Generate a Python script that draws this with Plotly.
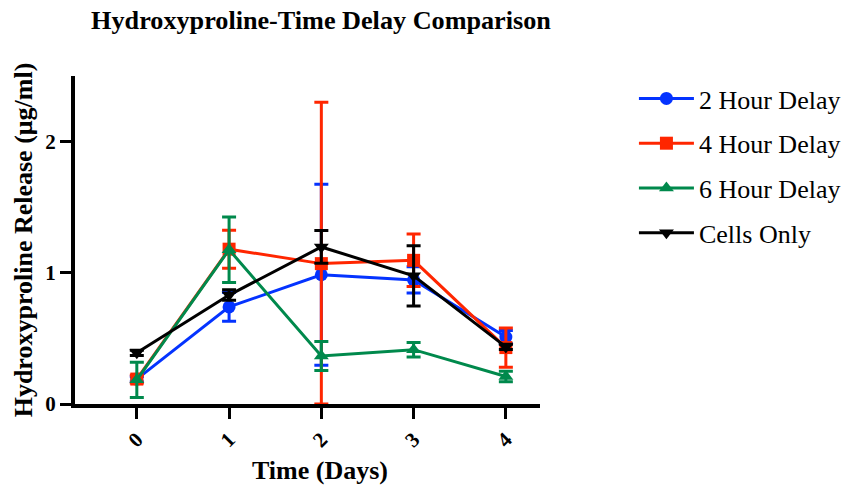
import plotly.graph_objects as go

days = [0, 1, 2, 3, 4]
series_names = ["2 Hour Delay", "4 Hour Delay", "6 Hour Delay", "Cells Only"]

h2_mean = [0.19, 0.74, 0.985, 0.946, 0.51]
h2_err_plus = [0.02, 0.11, 0.69, 0.10, 0.05]
h2_err_minus = [0.02, 0.11, 0.69, 0.10, 0.05]

h4_mean = [0.19, 1.18, 1.07, 1.095, 0.43]
h4_err_plus = [0.03, 0.145, 1.23, 0.20, 0.15]
h4_err_minus = [0.03, 0.145, 1.07, 0.20, 0.15]

h6_mean = [0.184, 1.176, 0.366, 0.414, 0.21]
h6_err_plus = [0.135, 0.25, 0.11, 0.055, 0.04]
h6_err_minus = [0.135, 0.25, 0.11, 0.055, 0.04]

cells_mean = [0.39, 0.83, 1.197, 0.977, 0.435]
cells_err_plus = [0.02, 0.04, 0.125, 0.23, 0.02]
cells_err_minus = [0.02, 0.04, 0.125, 0.23, 0.02]

colors = ["#0433FF", "#FF2600", "#00894C", "#000000"]
symbols = ["circle", "square", "triangle-up", "triangle-down"]
means = [h2_mean, h4_mean, h6_mean, cells_mean]
plus = [h2_err_plus, h4_err_plus, h6_err_plus, cells_err_plus]
minus = [h2_err_minus, h4_err_minus, h6_err_minus, cells_err_minus]

FONT = "Liberation Serif, Times New Roman, serif"

fig = go.Figure()
for name, c, s, m, p, mi in zip(series_names, colors, symbols, means, plus, minus):
    fig.add_trace(go.Scatter(
        x=days, y=m, name=name, mode="lines+markers",
        line=dict(color=c, width=3),
        marker=dict(color=c, symbol=s, size=13),
        error_y=dict(type="data", symmetric=False, array=p, arrayminus=mi,
                     color=c, thickness=3, width=7),
        legendgroup=name,
    ))

fig.update_layout(
    width=843, height=488,
    margin=dict(l=75, r=303, t=76, b=84, autoexpand=False),
    plot_bgcolor="white", paper_bgcolor="white",
    font=dict(family=FONT, color="black"),
    title=dict(text="<b>Hydroxyproline-Time Delay Comparison</b>",
               x=321 / 843, xanchor="center", y=1 - 20 / 488, yanchor="middle",
               font=dict(size=26.2, family=FONT, color="black")),
    xaxis=dict(
        range=[-0.67, 4.37], tickmode="array", tickvals=days,
        ticktext=["<b>%d</b>" % d for d in days], tickangle=-45,
        showline=True, linecolor="black", linewidth=4,
        ticks="outside", ticklen=11, tickwidth=3, tickcolor="black",
        showgrid=False, zeroline=False,
        tickfont=dict(size=21, family=FONT, color="black"),
    ),
    yaxis=dict(
        range=[0, 2.5], tickmode="array", tickvals=[0, 1, 2],
        ticktext=["<b>0</b>", "<b>1</b>", "<b>2</b>"],
        showline=True, linecolor="black", linewidth=4,
        ticks="outside", ticklen=11, tickwidth=3, tickcolor="black",
        showgrid=False, zeroline=False,
        tickfont=dict(size=21, family=FONT, color="black"),
        title=dict(text="<b>Hydroxyproline Release (μg/ml)</b>",
                   font=dict(size=26, family=FONT, color="black"), standoff=6),
    ),
    legend=dict(x=1.202, xanchor="left", y=1 + 1 / 328, yanchor="top",
                font=dict(size=26, family=FONT, color="black"),
                tracegroupgap=8, itemwidth=55, bgcolor="rgba(0,0,0,0)"),
    annotations=[dict(
        text="<b>Time (Days)</b>", xref="paper", yref="paper",
        x=(320 - 75) / 465, y=1 - (470 - 76) / 328, xanchor="center", yanchor="middle",
        showarrow=False, font=dict(size=26, family=FONT, color="black"),
    )],
)

fig.write_html("out.html")
